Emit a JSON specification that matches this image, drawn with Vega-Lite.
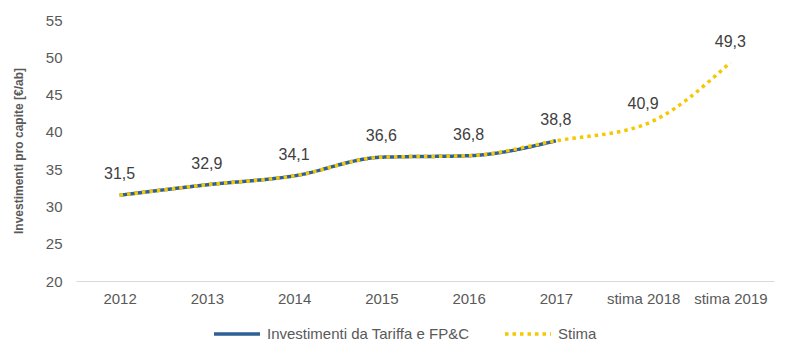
{
  "$schema": "https://vega.github.io/schema/vega-lite/v6.json",
  "autosize": {"type": "none"},
  "width": 698,
  "height": 261,
  "padding": {"left": 76, "top": 20, "right": 26, "bottom": 78},
  "background": "white",
  "config": {
    "view": {"stroke": null},
    "font": "Liberation Sans",
    "locale": {"number": {"decimal": ",", "thousands": ".", "grouping": [3], "currency": ["", " €"]}}
  },
  "data": {"values": [
    {"anno": "2012", "valore": 31.5, "serie": "Investimenti da Tariffa e FP&C"},
    {"anno": "2013", "valore": 32.9, "serie": "Investimenti da Tariffa e FP&C"},
    {"anno": "2014", "valore": 34.1, "serie": "Investimenti da Tariffa e FP&C"},
    {"anno": "2015", "valore": 36.6, "serie": "Investimenti da Tariffa e FP&C"},
    {"anno": "2016", "valore": 36.8, "serie": "Investimenti da Tariffa e FP&C"},
    {"anno": "2017", "valore": 38.8, "serie": "Investimenti da Tariffa e FP&C"},
    {"anno": "2012", "valore": 31.5, "serie": "Stima"},
    {"anno": "2013", "valore": 32.9, "serie": "Stima"},
    {"anno": "2014", "valore": 34.1, "serie": "Stima"},
    {"anno": "2015", "valore": 36.6, "serie": "Stima"},
    {"anno": "2016", "valore": 36.8, "serie": "Stima"},
    {"anno": "2017", "valore": 38.8, "serie": "Stima"},
    {"anno": "stima 2018", "valore": 40.9, "serie": "Stima"},
    {"anno": "stima 2019", "valore": 49.3, "serie": "Stima"}
  ]},
  "encoding": {
    "x": {
      "field": "anno", "type": "nominal",
      "sort": ["2012", "2013", "2014", "2015", "2016", "2017", "stima 2018", "stima 2019"],
      "scale": {"type": "point", "padding": 0.5},
      "axis": {
        "title": null, "labelAngle": 0, "ticks": false,
        "domainColor": "#D9D9D9", "domainWidth": 1,
        "labelFontSize": 15, "labelColor": "#595959", "labelPadding": 10
      }
    },
    "y": {
      "field": "valore", "type": "quantitative",
      "scale": {"domain": [20, 55], "nice": false, "zero": false},
      "axis": {
        "title": "Investimenti pro capite [€/ab]",
        "titleFontSize": 12, "titleFontWeight": "bold", "titleColor": "#595959",
        "titlePadding": 20,
        "values": [20, 25, 30, 35, 40, 45, 50, 55],
        "grid": false, "domain": false, "ticks": false,
        "labelFontSize": 15, "labelColor": "#595959", "labelPadding": 14
      }
    }
  },
  "layer": [
    {
      "mark": {"type": "line", "strokeWidth": 3.5, "interpolate": "monotone"},
      "encoding": {
        "color": {
          "field": "serie", "type": "nominal",
          "scale": {"domain": ["Investimenti da Tariffa e FP&C", "Stima"], "range": ["#2E6096", "#F5C800"]},
          "legend": {
            "title": null, "orient": "none", "direction": "horizontal",
            "legendX": 136, "legendY": 289,
            "symbolType": "stroke", "symbolSize": 2116, "symbolStrokeWidth": 3.5,
            "labelFontSize": 15, "labelColor": "#595959", "labelLimit": 400,
            "columnPadding": 28, "labelOffset": 5
          }
        },
        "strokeDash": {
          "field": "serie", "type": "nominal",
          "scale": {"domain": ["Investimenti da Tariffa e FP&C", "Stima"], "range": [[1, 0], [3.5, 4]]},
          "legend": null
        }
      }
    },
    {
      "transform": [{"filter": "datum.serie === 'Stima'"}],
      "mark": {"type": "text", "dy": -21, "fontSize": 16, "color": "#404040"},
      "encoding": {
        "text": {"field": "valore", "type": "quantitative", "format": ".1f"}
      }
    }
  ]
}
